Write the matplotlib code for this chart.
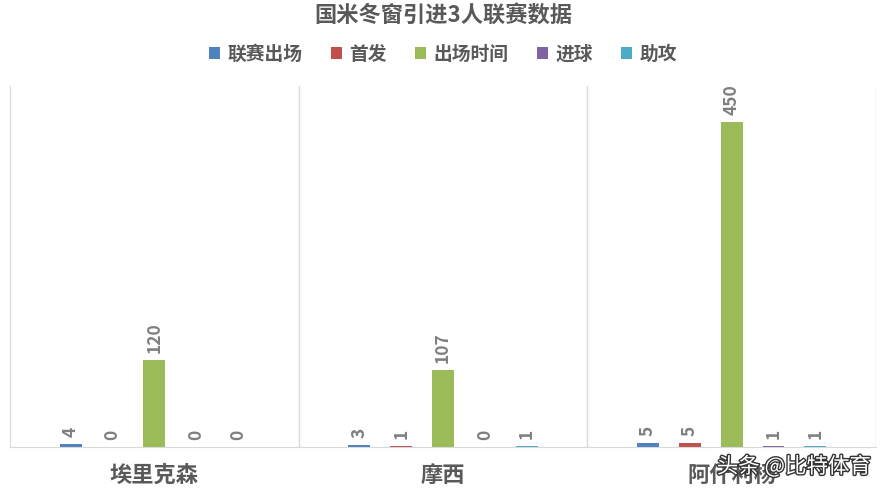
import matplotlib
matplotlib.use("Agg")
import matplotlib.pyplot as plt
import matplotlib.patheffects as pe
import numpy as np

plt.rcParams["font.family"] = ["Noto Sans CJK SC", "DejaVu Sans"]

players = ["埃里克森", "摩西", "阿什利杨"]
stats = ["联赛出场", "首发", "出场时间", "进球", "助攻"]
apps = [4, 3, 5]
starts = [0, 1, 5]
minutes = [120, 107, 450]
goals = [0, 0, 1]
assists = [0, 1, 1]
colors = ["#4F81BD", "#C0504D", "#9BBB59", "#8064A2", "#4BACC6"]
GRAY = "#7F7F7F"

values = [apps, starts, minutes, goals, assists]

fig = plt.figure(figsize=(8.86, 4.95), dpi=100)
ax = fig.add_axes([10 / 886, 48 / 495, 866 / 886, 361 / 495])

x = np.arange(len(players))
step, width = 0.145, 0.076
for i, (vals, c, name) in enumerate(zip(values, colors, stats)):
    pos = x + (i - 2) * step
    ax.bar(pos, vals, width, color=c, label=name)
    for p, v in zip(pos, vals):
        ax.annotate(str(v), (p, v), xytext=(0, 5), textcoords="offset points",
                    rotation=90, ha="center", va="bottom", fontsize=12.5,
                    fontweight="bold", color=GRAY)

ax.set_xlim(-0.5, 2.5)
ax.set_ylim(0, 500)
ax.set_yticks([])
ax.set_xticks(x)
ax.set_xticklabels(players, fontsize=16, fontweight="bold", color="#595959")
ax.tick_params(axis="x", length=0, pad=12)
for b in [0.5, 1.5, 2.5]:
    ax.axvline(b, color="#D9D9D9", lw=1)
for s in ["top", "right"]:
    ax.spines[s].set_visible(False)
for s in ["left", "bottom"]:
    ax.spines[s].set_color("#D9D9D9")

fig.text(0.5, 1 - 16 / 495, "国米冬窗引进3人联赛数据", ha="center", va="center",
         fontsize=16, fontweight="bold", color="#595959")
fig.legend(loc="center", bbox_to_anchor=(0.5, 1 - 54 / 495), ncol=5, frameon=False,
           handlelength=0.6, handleheight=0.6, handletextpad=0.4, columnspacing=1.5,
           prop={"size": 13.5, "weight": "bold"}, labelcolor="#595959")

# watermark from the source image
fig.text(0.983, 1 - 467 / 495, "头条 @比特体育", ha="right", va="center", fontsize=15.5,
         color="white", path_effects=[pe.withStroke(linewidth=2, foreground="#333333")])

fig.savefig("out.png", dpi=100)
